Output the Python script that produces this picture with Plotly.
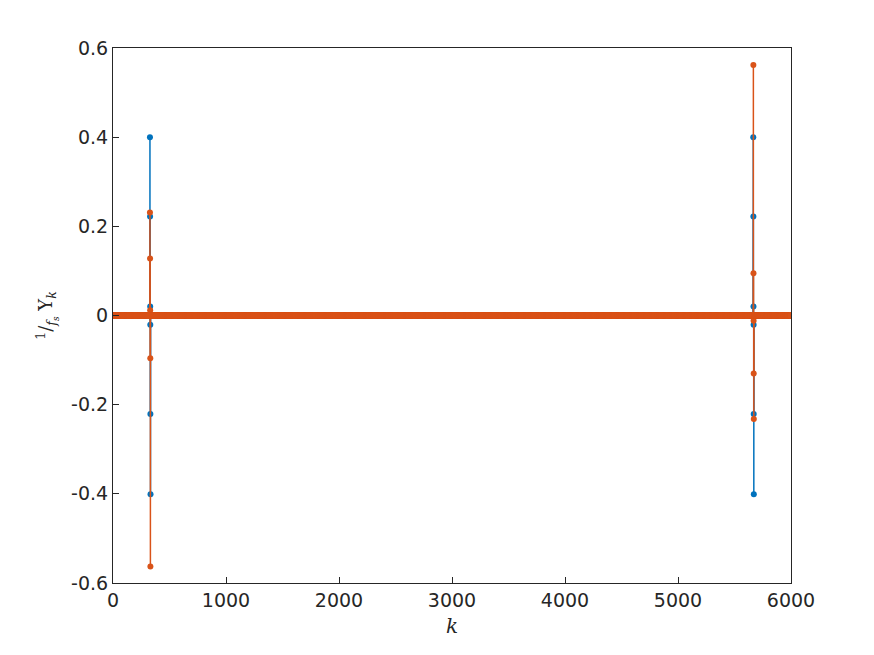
import numpy as np
import plotly.graph_objects as go

# FFT bins (k = 1..6000); almost every bin is zero except two narrow clusters
N_BINS = 6000

re_k = [327, 328, 329, 330, 331, 332,
        5666, 5667, 5668, 5669, 5670, 5671]
re_val = [0.40, 0.222, 0.020, -0.021, -0.221, -0.401,
          0.40, 0.222, 0.020, -0.021, -0.221, -0.401]

# imaginary part (orange) spikes
im_k = [327, 328, 329, 330, 331,
        5667, 5668, 5669, 5670, 5671]
im_val = [0.231, 0.128, 0.012, -0.096, -0.563,
          0.562, 0.095, -0.012, -0.130, -0.232]

x_ticks = [0, 1000, 2000, 3000, 4000, 5000, 6000]
y_ticks = [-0.6, -0.4, -0.2, 0, 0.2, 0.4, 0.6]
y_tick_text = ["-0.6", "-0.4", "-0.2", "0", "0.2", "0.4", "0.6"]

BLUE = "#0072BD"
ORANGE = "#D95319"
AXIS = "#262626"

k = np.arange(1, N_BINS + 1)


def series(idx, vals):
    y = np.zeros(N_BINS)
    for i, v in zip(idx, vals):
        y[i - 1] = v
    return y


def stems(idx, vals):
    xs, ys = [], []
    for i, v in zip(idx, vals):
        xs += [i, i, None]
        ys += [0, v, None]
    return xs, ys


fig = go.Figure()

for idx, vals, color, name in [(re_k, re_val, BLUE, "Re"), (im_k, im_val, ORANGE, "Im")]:
    sx, sy = stems(idx, vals)
    fig.add_trace(go.Scatter(
        x=sx, y=sy, mode="lines",
        line=dict(color=color, width=1.5),
        showlegend=False, hoverinfo="skip",
    ))
    fig.add_trace(go.Scatter(
        x=k, y=series(idx, vals), mode="markers",
        marker=dict(color=color, size=6, symbol="circle", line=dict(width=0)),
        name=name, showlegend=False,
    ))

axis_common = dict(
    showline=True, linecolor=AXIS, linewidth=1, mirror=True,
    ticks="inside", ticklen=6, tickcolor=AXIS, showgrid=False, zeroline=False,
    tickfont=dict(family="DejaVu Sans", size=19, color=AXIS),
)

fig.update_xaxes(
    range=[0, 6000], tickvals=x_ticks,
    title=dict(text="<i>k</i>", font=dict(family="DejaVu Serif", size=20, color=AXIS), standoff=9),
    **axis_common,
)
fig.update_yaxes(
    range=[-0.6, 0.6], tickvals=y_ticks, ticktext=y_tick_text,
    title=dict(text="<sup>1</sup>/<sub><i>f<sub>s</sub></i></sub> Y<sub><i>k</i></sub>",
               font=dict(family="DejaVu Serif", size=18, color=AXIS), standoff=13),
    **axis_common,
)

# page body adds an 8px offset, so margins are shifted accordingly
fig.update_layout(
    width=874, height=655,
    margin=dict(l=105, r=91, t=40, b=80),
    paper_bgcolor="white", plot_bgcolor="white",
)

fig.write_html("out.html")
